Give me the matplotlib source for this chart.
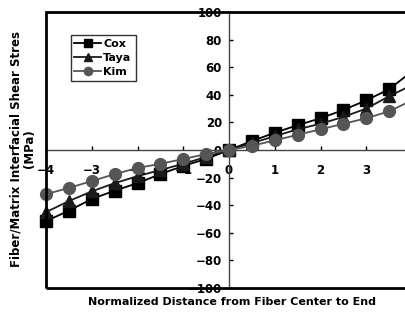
import numpy as np
import matplotlib
matplotlib.use("Agg")
import matplotlib.pyplot as plt
from matplotlib.patches import Rectangle

# Datos (cada 0.5 unidades de -4 a 4)
distancia = [-4, -3.5, -3, -2.5, -2, -1.5, -1, -0.5, 0, 0.5, 1, 1.5, 2, 2.5, 3, 3.5, 4]
cox = [-51.5, -44, -35.5, -29.5, -24, -17.5, -11.5, -6.5, 0,
       6.5, 12.5, 18, 23, 29, 36, 44, 57]
taya = [-45, -37, -30, -24, -19, -14.5, -10, -5, 0,
        5, 10, 15, 19, 24, 30, 39, 47]
kim = [-32, -27.5, -22.5, -17.5, -13, -10, -6.5, -3, 0,
       3, 7, 11, 15, 19, 23, 28, 36]

xticks = [-4, -3, -2, -1, 0, 1, 2, 3]
yticks = [-100, -80, -60, -40, -20, 0, 20, 40, 60, 80, 100]

plt.rcParams["font.family"] = ["DejaVu Sans"]
plt.rcParams["font.weight"] = "bold"
plt.rcParams["font.size"] = 8

fig = plt.figure(figsize=(4.05, 3.2), dpi=100)
# el eje se sale un poco por la derecha, como en la original
ax = fig.add_axes([46 / 405, 32 / 320, 366 / 405, 276 / 320])

ax.plot(distancia, cox, color="black", lw=1.3, marker="s", ms=8.5,
        label="Cox", zorder=3, clip_on=False)
ax.plot(distancia, taya, color="#1a1a1a", lw=1.3, marker="^", ms=8.5,
        label="Taya", zorder=3, clip_on=False)
ax.plot(distancia, kim, color="#555555", lw=1.3, marker="o", ms=8.5,
        label="Kim", zorder=3, clip_on=False)

ax.set_xlim(-4, 4)
ax.set_ylim(-100, 100)

# ejes cruzando en el origen
ax.spines["left"].set_position(("data", 0))
ax.spines["bottom"].set_position(("data", 0))
for lado in ["left", "bottom"]:
    ax.spines[lado].set_color("#444444")
    ax.spines[lado].set_linewidth(1)
ax.spines["top"].set_visible(False)
ax.spines["right"].set_visible(False)

# marco exterior
ax.add_patch(Rectangle((0, 0), 1, 1, transform=ax.transAxes, fill=False,
                       lw=2, edgecolor="black", clip_on=False, zorder=4))

ax.set_xticks(xticks)
ax.set_yticks(yticks)
ax.tick_params(axis="x", direction="in", length=3, width=1, pad=10,
               colors="black", labelsize=8.5)
ax.tick_params(axis="y", direction="in", length=3, width=1, pad=5,
               colors="black", labelsize=8.5)

leg = ax.legend(loc="upper left", bbox_to_anchor=(0.052, 0.935),
                frameon=True, fancybox=False, edgecolor="black",
                handlelength=2.4, handletextpad=0.2, labelspacing=0.35,
                borderpad=0.35, markerscale=0.7, fontsize=8)
leg.get_frame().set_linewidth(1)

fig.text(0.056, 0.535, "Fiber/Matrix Interfacial Shear Stres\n(MPa)",
         rotation=90, ha="center", va="center", multialignment="center",
         fontsize=8.5, fontweight="bold", linespacing=1.1)
fig.text(0.573, 0.056, "Normalized Distance from Fiber Center to End",
         ha="center", va="center", fontsize=8, fontweight="bold")

fig.savefig("out.png", dpi=100)
